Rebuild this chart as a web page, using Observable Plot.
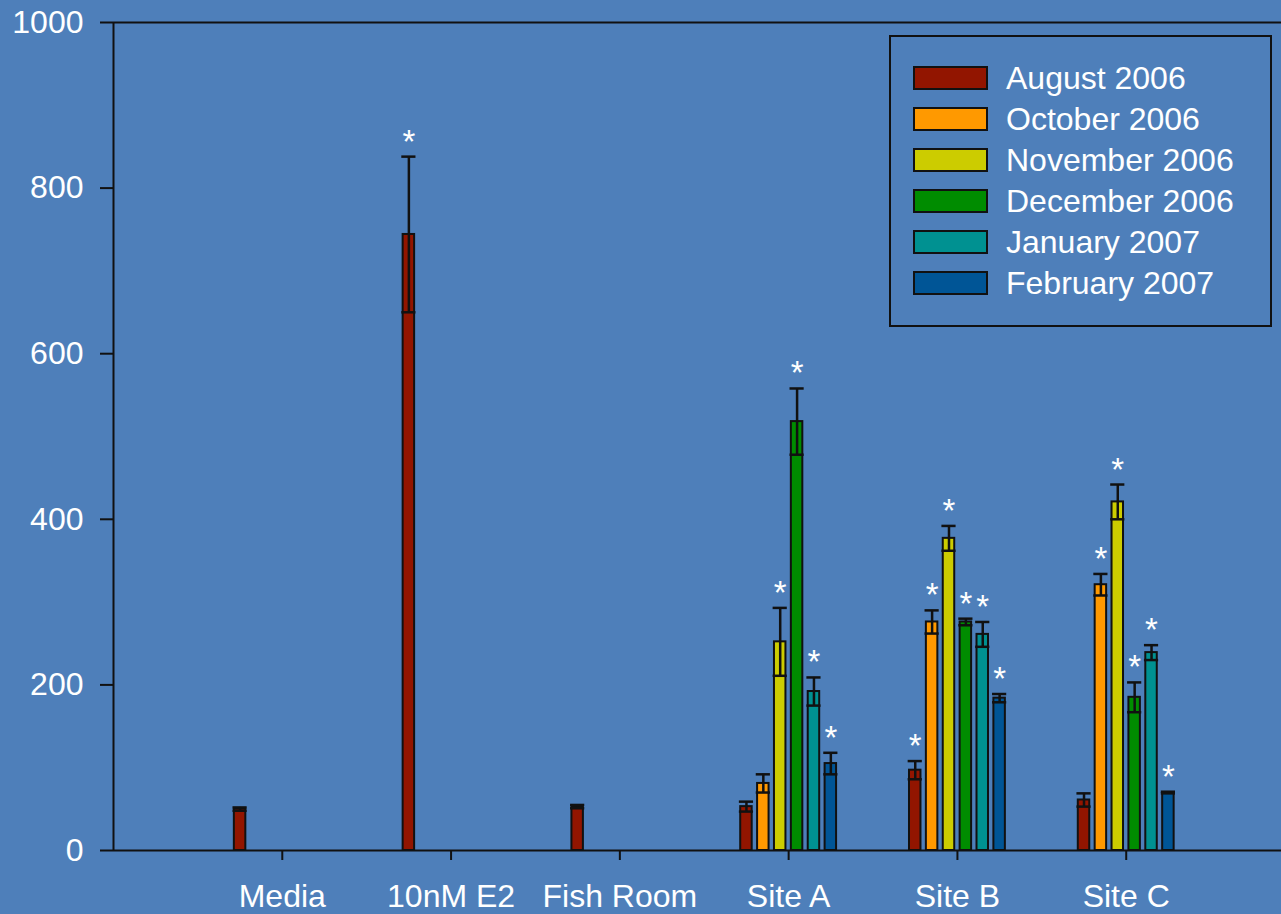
<!DOCTYPE html>
<html>
<head>
<meta charset="utf-8">
<script src="https://cdn.jsdelivr.net/npm/d3@7"></script>
<script src="https://cdn.jsdelivr.net/npm/@observablehq/plot@0.6"></script>
<style>
  html, body { margin: 0; padding: 0; background: #4e7fba; }
  #wrap { position: relative; width: 1281px; height: 914px; overflow: hidden; font-family: "Liberation Sans", Arial, sans-serif; }
  #legend { position: absolute; left: 889px; top: 35px; width: 379px; height: 288px; border: 2px solid #111; box-sizing: content-box; }
  .row { position: absolute; left: 22px; height: 26px; display: flex; align-items: center; }
  .sw { width: 71px; height: 20px; border: 2px solid #111; }
  .lab { color: #fff; font-size: 32px; margin-left: 18px; line-height: 26px; white-space: nowrap; }
</style>
</head>
<body>
<div id="wrap"></div>
<script>
const categories = ["Media", "10nM E2", "Fish Room", "Site A", "Site B", "Site C"];
const seriesNames = ["August 2006", "October 2006", "November 2006", "December 2006", "January 2007", "February 2007"];
const seriesColors = ["#921500", "#ff9900", "#cccc00", "#008c00", "#009191", "#005596"];

// values per category, per series (null = not measured)
const values = [
  [50, null, null, null, null, null],
  [744, null, null, null, null, null],
  [53, null, null, null, null, null],
  [53, 81, 252, 518, 192, 105],
  [97, 276, 377, 276, 261, 184],
  [61, 321, 421, 185, 239, 70]
];
const errors = [
  [2, null, null, null, null, null],
  [94, null, null, null, null, null],
  [2, null, null, null, null, null],
  [6, 11, 41, 40, 17, 13],
  [11, 14, 15, 4, 15, 5],
  [8, 13, 21, 18, 9, 1]
];
const significant = [
  [false, false, false, false, false, false],
  [true, false, false, false, false, false],
  [false, false, false, false, false, false],
  [false, false, true, true, true, true],
  [true, true, true, true, true, true],
  [false, true, true, true, true, true]
];
const yTicks = [0, 200, 400, 600, 800, 1000];

const slot = 0.1;      // spacing between series within a group, in x units
const halfBar = 0.034; // half bar width in x units
const halfCap = 0.042;

const rows = [];
categories.forEach((c, i) => {
  seriesNames.forEach((s, j) => {
    const v = values[i][j];
    if (v == null) return;
    rows.push({cat: c, series: s, value: v, err: errors[i][j], star: significant[i][j],
               pos: (i + 1) + (j - 2.5) * slot});
  });
});

const font = "Liberation Sans, Arial, sans-serif";

const chart = Plot.plot({
  width: 1281,
  height: 914,
  marginLeft: 113,
  marginRight: 0,
  marginTop: 22,
  marginBottom: 64,
  style: {background: "#4e7fba", color: "#fff", fontFamily: font, overflow: "visible"},
  x: {type: "linear", domain: [0, 6.92], axis: null, label: null},
  y: {domain: [0, 1000], axis: null, label: null},
  color: {domain: seriesNames, range: seriesColors},
  marks: [
    Plot.rectY(rows, {x1: d => d.pos - halfBar, x2: d => d.pos + halfBar, y1: 0, y2: "value",
      fill: "series", stroke: "#111", strokeWidth: 2}),
    Plot.ruleX(rows, {x: "pos", y1: d => d.value - d.err, y2: d => d.value + d.err, stroke: "#111", strokeWidth: 2.5}),
    Plot.ruleY(rows, {y: d => d.value + d.err, x1: d => d.pos - halfCap, x2: d => d.pos + halfCap, stroke: "#111", strokeWidth: 2.5}),
    Plot.ruleY(rows, {y: d => d.value - d.err, x1: d => d.pos - halfCap, x2: d => d.pos + halfCap, stroke: "#111", strokeWidth: 2.5}),
    Plot.text(rows.filter(d => d.star), {x: "pos", y: d => d.value + d.err, text: () => "*",
      fill: "#fff", fontSize: 33, lineAnchor: "bottom", dy: -4, fontFamily: font}),
    Plot.ruleY([0, 1000], {stroke: "#111", strokeWidth: 2}),
    Plot.ruleX([0], {y1: 0, y2: 1000, stroke: "#111", strokeWidth: 2}),
    Plot.axisY({ticks: yTicks, tickSize: 13, tickPadding: 17, stroke: "#111", strokeWidth: 2,
      fontSize: 32, fill: "#fff", label: null, tickFormat: d => String(d)}),
    Plot.axisX({ticks: [1, 2, 3, 4, 5, 6], tickSize: 10, tickPadding: 24, stroke: "#111", strokeWidth: 2,
      fontSize: 32, fill: "#fff", label: null, tickFormat: d => categories[d - 1]})
  ]
});

const wrap = document.getElementById("wrap");
wrap.appendChild(chart);

const legend = document.createElement("div");
legend.id = "legend";
seriesNames.forEach((s, j) => {
  const row = document.createElement("div");
  row.className = "row";
  row.style.top = (28 + j * 41) + "px";
  const sw = document.createElement("div");
  sw.className = "sw";
  sw.style.background = seriesColors[j];
  const lab = document.createElement("span");
  lab.className = "lab";
  lab.textContent = s;
  row.appendChild(sw);
  row.appendChild(lab);
  legend.appendChild(row);
});
wrap.appendChild(legend);
</script>
</body>
</html>
